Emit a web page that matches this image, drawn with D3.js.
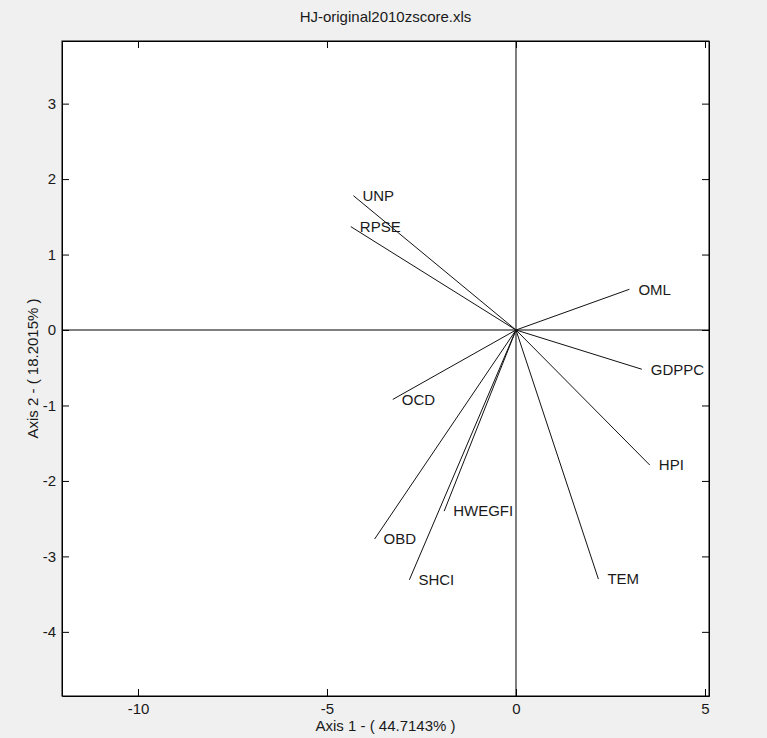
<!DOCTYPE html>
<html>
<head>
<meta charset="utf-8">
<script src="https://cdn.jsdelivr.net/npm/d3@7"></script>
<style>
  html, body { margin: 0; padding: 0; background: #f0f0f0; }
  svg { display: block; }
  text { font-family: "Liberation Sans", Arial, sans-serif; }
</style>
</head>
<body>
<svg id="chart" width="767" height="738"></svg>
<script>
// ---- data ----
const variables = ["UNP", "RPSE", "OML", "GDPPC", "HPI", "TEM", "OCD", "OBD", "SHCI", "HWEGFI"];
const axis1Loadings = [-4.30, -4.37, 3.00, 3.33, 3.54, 2.18, -3.26, -3.74, -2.82, -1.90];
const axis2Loadings = [1.78, 1.37, 0.54, -0.52, -1.79, -3.30, -0.92, -2.77, -3.31, -2.40];
const xTicks = [-10, -5, 0, 5];
const yTicks = [-4, -3, -2, -1, 0, 1, 2, 3];
const titleText = "HJ-original2010zscore.xls";
const xLabelText = "Axis 1 - ( 44.7143% )";
const yLabelText = "Axis 2 - ( 18.2015% )";
const xDomain = [-12.01, 5.106];
const yDomain = [-4.85, 3.83];

// ---- layout ----
const pL = 62, pR = 709, pT = 41, pB = 696;
const svg = d3.select("#chart");
const x = d3.scaleLinear().domain(xDomain).range([pL, pR]);
const y = d3.scaleLinear().domain(yDomain).range([pB, pT]);
const fs = 15;
const txtColor = "#1a1a1a";

svg.append("rect").attr("x", 0).attr("y", 0).attr("width", 767).attr("height", 738).attr("fill", "#f0f0f0");
svg.append("rect").attr("x", pL).attr("y", pT).attr("width", pR - pL).attr("height", pB - pT)
  .attr("fill", "#ffffff");

// axes
const fmt = d => String(d);
const gB = svg.append("g").attr("transform", `translate(0,${pB})`)
  .call(d3.axisBottom(x).tickValues(xTicks).tickFormat(fmt).tickSizeInner(-7).tickSizeOuter(0).tickPadding(7));
const gT = svg.append("g").attr("transform", `translate(0,${pT})`)
  .call(d3.axisTop(x).tickValues(xTicks).tickFormat("").tickSizeInner(-7).tickSizeOuter(0));
const gL = svg.append("g").attr("transform", `translate(${pL},0)`)
  .call(d3.axisLeft(y).tickValues(yTicks).tickFormat(fmt).tickSizeInner(-7).tickSizeOuter(0).tickPadding(6));
const gR = svg.append("g").attr("transform", `translate(${pR},0)`)
  .call(d3.axisRight(y).tickValues(yTicks).tickFormat("").tickSizeInner(-7).tickSizeOuter(0));
[gB, gT, gL, gR].forEach(g => {
  g.selectAll(".domain").attr("stroke", "#000").attr("stroke-width", 1);
  g.selectAll(".tick line").attr("stroke", "#000");
  g.selectAll(".tick text").attr("fill", txtColor).style("font-size", fs + "px")
    .style("font-family", '"Liberation Sans", Arial, sans-serif');
});

// zero lines
svg.append("line").attr("x1", x(0)).attr("x2", x(0)).attr("y1", pT).attr("y2", pB)
  .attr("stroke", "#000").attr("stroke-width", 1);
svg.append("line").attr("x1", pL).attr("x2", pR).attr("y1", y(0)).attr("y2", y(0))
  .attr("stroke", "#000").attr("stroke-width", 1);

// vectors
const data = variables.map((v, i) => ({ name: v, a1: axis1Loadings[i], a2: axis2Loadings[i] }));
svg.append("g").selectAll("line").data(data).join("line")
  .attr("x1", x(0)).attr("y1", y(0))
  .attr("x2", d => x(d.a1)).attr("y2", d => y(d.a2))
  .attr("stroke", "#111").attr("stroke-width", 1);
svg.append("g").selectAll("text").data(data).join("text")
  .attr("x", d => x(d.a1) + 9).attr("y", d => y(d.a2))
  .attr("dy", "0.35em")
  .attr("fill", txtColor).style("font-size", fs + "px")
  .text(d => d.name);

// frame on top
svg.append("rect").attr("x", pL).attr("y", pT).attr("width", pR - pL).attr("height", pB - pT)
  .attr("fill", "none").attr("stroke", "#000").attr("stroke-width", 1);

// titles
svg.append("text").attr("x", (pL + pR) / 2).attr("y", 22).attr("text-anchor", "middle")
  .attr("fill", txtColor).style("font-size", fs + "px").text(titleText);
svg.append("text").attr("x", (pL + pR) / 2).attr("y", 731).attr("text-anchor", "middle")
  .attr("fill", txtColor).style("font-size", fs + "px").text(xLabelText);
svg.append("text").attr("transform", `translate(38,${(pT + pB) / 2}) rotate(-90)`)
  .attr("text-anchor", "middle")
  .attr("fill", txtColor).style("font-size", fs + "px").text(yLabelText);
</script>
</body>
</html>
